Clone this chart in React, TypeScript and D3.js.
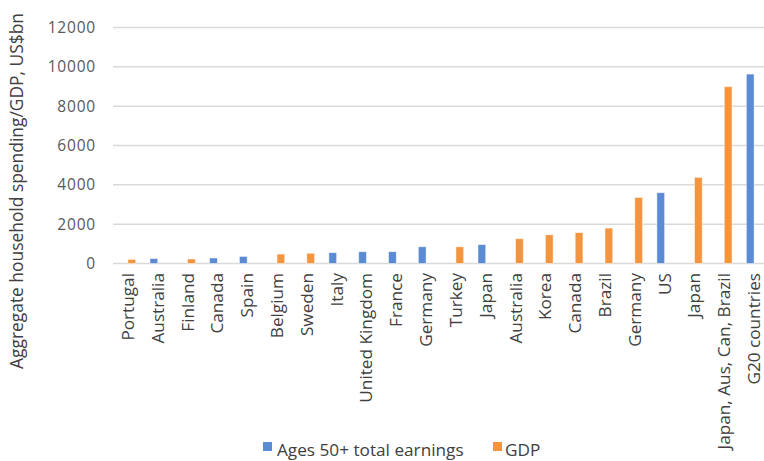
import React from "react";
import * as d3 from "d3";

// Category labels along the x axis (in plotted order)
const categories = [
  "Portugal",
  "Australia",
  "Finland",
  "Canada",
  "Spain",
  "Belgium",
  "Sweden",
  "Italy",
  "United Kingdom",
  "France",
  "Germany",
  "Turkey",
  "Japan",
  "Australia",
  "Korea",
  "Canada",
  "Brazil",
  "Germany",
  "US",
  "Japan",
  "Japan, Aus, Can, Brazil",
  "G20 countries",
];

// Ages 50+ total earnings, US$bn (null where the category has no value)
const earnings: (number | null)[] = [
  null, 250, null, 280, 360, null, null, 550, 600, 600, 850, null,
  960, null, null, null, null, null, 3600, null, null, 9630,
];

// GDP, US$bn
const gdp: (number | null)[] = [
  210, null, 230, null, null, 480, 520, null, null, null, null, 850,
  null, 1260, 1460, 1570, 1800, 3360, null, 4380, 8990, null,
];

const yTicks = [0, 2000, 4000, 6000, 8000, 10000, 12000];

const seriesNames = ["Ages 50+ total earnings", "GDP"];

const BLUE = "#5A8BD3";
const ORANGE = "#F3953F";
const FONT = "'Open Sans', Lato, sans-serif";

export default function App() {
  const width = 764;
  const height = 461;
  const plotLeft = 113;
  const plotRight = 769;
  const plotTop = 27.5;
  const plotBottom = 263.5;

  const x = d3
    .scaleBand<number>()
    .domain(categories.map((_, i) => i))
    .range([plotLeft, plotRight]);

  const y = d3.scaleLinear().domain([0, 12000]).range([plotBottom, plotTop]);

  const bw = x.bandwidth() * 0.26;

  const bars: { key: string; x: number; v: number; color: string }[] = [];
  categories.forEach((_, i) => {
    const c = (x(i) as number) + x.bandwidth() / 2;
    const e = earnings[i];
    const g = gdp[i];
    if (e != null) bars.push({ key: `e${i}`, x: c - bw, v: e, color: BLUE });
    if (g != null) bars.push({ key: `g${i}`, x: c, v: g, color: ORANGE });
  });

  return (
    <svg
      width={width}
      height={height}
      style={{ position: "absolute", left: 0, top: 0, background: "#fff" }}
      fontFamily={FONT}
    >
      {/* gridlines */}
      {yTicks.map((t) => (
        <line
          key={t}
          x1={plotLeft}
          x2={width}
          y1={y(t)}
          y2={y(t)}
          stroke="#D9D9D9"
          strokeWidth={1.5}
        />
      ))}

      {/* y tick labels */}
      {yTicks.map((t) => (
        <text
          key={`l${t}`}
          x={96}
          y={y(t)}
          dy="0.35em"
          textAnchor="end"
          fontSize={15.5}
          letterSpacing={0.8}
          fill="#595959"
        >
          {t}
        </text>
      ))}

      {/* bars */}
      {bars.map((b) => (
        <rect
          key={b.key}
          x={b.x}
          y={y(b.v)}
          width={bw}
          height={y(0) - y(b.v)}
          fill={b.color}
          stroke="#fff"
          strokeOpacity={0.6}
          strokeWidth={0.8}
        />
      ))}

      {/* x category labels */}
      {categories.map((c, i) => (
        <text
          key={`c${i}`}
          transform={`translate(${(x(i) as number) + x.bandwidth() / 2},273) rotate(-90)`}
          dy="0.35em"
          textAnchor="end"
          fontSize={17.2}
          fill="#404040"
        >
          {c}
        </text>
      ))}

      {/* y axis title */}
      <text
        transform="translate(23,191) rotate(-90)"
        textAnchor="middle"
        fontSize={17.4}
        fill="#404040"
      >
        Aggregate household spending/GDP, US$bn
      </text>

      {/* legend */}
      <rect x={263} y={442} width={9} height={9} fill={BLUE} />
      <text x={277} y={456} fontSize={17.2} fill="#404040">
        {seriesNames[0]}
      </text>
      <rect x={493} y={442} width={9} height={9} fill={ORANGE} />
      <text x={505} y={456} fontSize={17.2} fill="#404040">
        {seriesNames[1]}
      </text>
    </svg>
  );
}
